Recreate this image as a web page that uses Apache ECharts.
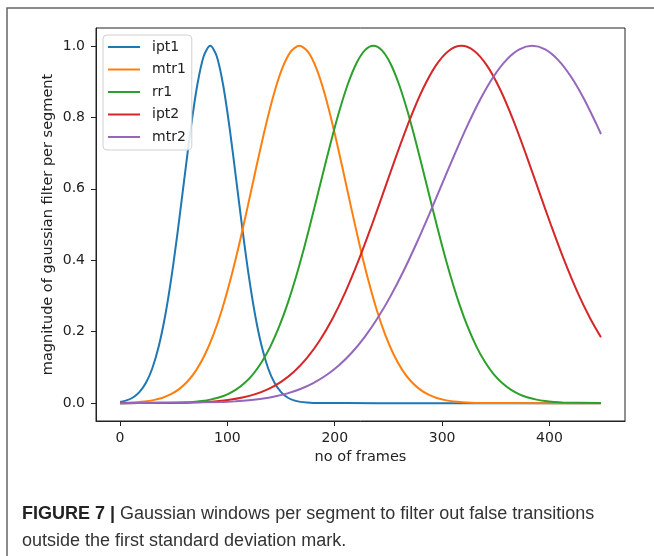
<!DOCTYPE html>
<html>
<head>
<meta charset="utf-8">
<script src="https://cdn.jsdelivr.net/npm/echarts@6/dist/echarts.min.js"></script>
<style>
html,body{margin:0;padding:0;background:#fff;}
#chart{width:654px;height:556px;}
</style>
</head>
<body>
<div id="chart"></div>
<script>
// ---- data ----
var seriesNames = ['ipt1', 'mtr1', 'rr1', 'ipt2', 'mtr2'];
var xTicks = [0, 100, 200, 300, 400];
var yTicks = [0, 0.2, 0.4, 0.6, 0.8, 1.0];

var ipt1X = [0,6,12,18,24,30,36,42,48,54,60,66,72,78,84,90,96,102,108,114,120,126,132,138,144,150,156,162,168,174,180,240,300,360,420,448];
var ipt1Y = [0.0035,0.0077,0.0158,0.0307,0.0561,0.0970,0.1583,0.2438,0.3546,0.4868,0.6308,0.7717,0.8912,0.9716,1,0.9716,0.8912,0.7717,0.6308,0.4868,0.3546,0.2438,0.1583,0.0970,0.0561,0.0307,0.0158,0.0077,0.0035,0.0015,0.0006,0,0,0,0,0];

var mtr1X = [0,7,15,23,31,39,47,55,63,71,79,87,95,103,111,119,127,135,143,151,159,167,175,183,191,199,207,215,223,231,239,247,255,263,271,279,287,295,303,311,319,327,335,400,448];
var mtr1Y = [0.0007,0.0013,0.0026,0.0047,0.0084,0.0145,0.0243,0.0392,0.0612,0.0925,0.1353,0.1915,0.2622,0.3472,0.4449,0.5515,0.6615,0.7676,0.8618,0.9360,0.9836,1,0.9836,0.9360,0.8618,0.7676,0.6615,0.5515,0.4449,0.3472,0.2622,0.1915,0.1353,0.0925,0.0612,0.0392,0.0243,0.0145,0.0084,0.0047,0.0026,0.0013,0.0007,0,0];

var rr1X = [0,60,68,76,84,92,100,108,116,124,132,140,148,156,164,172,180,188,196,204,212,220,228,236,244,252,260,268,276,284,292,300,308,316,324,332,340,348,356,364,372,380,388,396,404,412,448];
var rr1Y = [0,0.0020,0.0035,0.0060,0.0098,0.0158,0.0247,0.0377,0.0561,0.0814,0.1150,0.1583,0.2125,0.2780,0.3546,0.4408,0.5341,0.6308,0.7261,0.8148,0.8912,0.9501,0.9873,1,0.9873,0.9501,0.8912,0.8148,0.7261,0.6308,0.5341,0.4408,0.3546,0.2780,0.2125,0.1583,0.1150,0.0814,0.0561,0.0377,0.0247,0.0158,0.0098,0.0060,0.0035,0.0020,0.0001];

var ipt2X = [0,30,42,54,66,78,90,102,114,126,138,150,162,174,186,198,210,222,234,246,258,270,282,294,306,318,330,342,354,366,378,390,402,414,426,438,448];
var ipt2Y = [0,0.0003,0.0005,0.0009,0.0018,0.0032,0.0055,0.0094,0.0156,0.0251,0.0392,0.0595,0.0877,0.1257,0.1751,0.2369,0.3115,0.3979,0.4938,0.5955,0.6977,0.7942,0.8784,0.9440,0.9857,1,0.9857,0.9440,0.8784,0.7942,0.6977,0.5955,0.4938,0.3979,0.3115,0.2369,0.1845];

var mtr2X = [0,96,108,120,132,144,156,168,180,192,204,216,228,240,252,264,276,288,300,312,324,336,348,360,372,384,396,408,420,432,444,448];
var mtr2Y = [0,0.0032,0.0051,0.0080,0.0123,0.0186,0.0274,0.0396,0.0561,0.0780,0.1062,0.1418,0.1856,0.2381,0.2995,0.3692,0.4461,0.5285,0.6137,0.6986,0.7795,0.8526,0.9142,0.9609,0.9901,1,0.9901,0.9609,0.9142,0.8526,0.7795,0.7532];

var colors = ['#1f77b4', '#ff7f0e', '#2ca02c', '#d62728', '#9467bd'];
var xName = 'no of frames';
var yName = 'magnitude of gaussian filter per segment';
var captionBold = 'FIGURE 7 |';
var captionLine1 = ' Gaussian windows per segment to filter out false transitions';
var captionLine2 = 'outside the first standard deviation mark.';

// ---- chart ----
function pairs(xs, ys) { return xs.map(function (x, i) { return [x, ys[i]]; }); }
var allX = [ipt1X, mtr1X, rr1X, ipt2X, mtr2X];
var allY = [ipt1Y, mtr1Y, rr1Y, ipt2Y, mtr2Y];

var font = 'DejaVu Sans';
var chart = echarts.init(document.getElementById('chart'), null, { renderer: 'canvas' });
chart.setOption({
  animation: false,
  backgroundColor: '#fff',
  color: colors,
  grid: { left: 96, right: 29, top: 28, bottom: 135, show: true, borderColor: '#222', borderWidth: 1, backgroundColor: 'transparent', containLabel: false },
  legend: {
    orient: 'vertical', left: 103, top: 35,
    data: seriesNames.map(function (n) { return { name: n, icon: 'rect' }; }),
    itemWidth: 32, itemHeight: 2, itemGap: 6.5,
    padding: [4, 6, 5, 5],
    backgroundColor: 'rgba(255,255,255,0.85)', borderColor: '#d0d0d0', borderWidth: 1, borderRadius: 4,
    textStyle: { fontFamily: font, fontSize: 14, color: '#222', lineHeight: 16, padding: [0, 0, 0, 7] }
  },
  xAxis: {
    type: 'value', min: -22.4, max: 470.4, position: 'bottom',
    splitLine: { show: false }, axisLine: { show: true, onZero: false, lineStyle: { color: '#222', width: 1 } },
    axisTick: { show: true, inside: false, length: 5, customValues: xTicks, lineStyle: { color: '#222', width: 1 } },
    axisLabel: { customValues: xTicks, margin: 10, fontFamily: font, fontSize: 14, color: '#222' },
    name: xName, nameLocation: 'middle', nameGap: 29, nameMoveOverlap: false,
    nameTextStyle: { fontFamily: font, fontSize: 14.5, color: '#222' }
  },
  yAxis: {
    type: 'value', min: -0.05, max: 1.05, position: 'left',
    splitLine: { show: false }, axisLine: { show: true, onZero: false, lineStyle: { color: '#222', width: 1 } },
    axisTick: { show: true, inside: false, length: 5, customValues: yTicks, lineStyle: { color: '#222', width: 1 } },
    axisLabel: { customValues: yTicks, margin: 11, fontFamily: font, fontSize: 14, color: '#222', formatter: function (v) { return v.toFixed(1); } },
    name: yName, nameLocation: 'middle', nameGap: 40, nameMoveOverlap: false,
    nameTextStyle: { fontFamily: font, fontSize: 14.5, color: '#222' }
  },
  series: seriesNames.map(function (n, i) {
    return {
      name: n, type: 'line', data: pairs(allX[i], allY[i]),
      showSymbol: false, symbol: 'none', smooth: 0.3,
      lineStyle: { width: 2, color: colors[i] }, itemStyle: { color: colors[i] }
    };
  }),
  graphic: [
    { type: 'polyline', shape: { points: [[7, 556], [7, 8], [654, 8]] }, style: { stroke: '#666', lineWidth: 1.5, fill: null }, silent: true },
    { type: 'text', left: 22, top: 505, style: {
        text: '{b|' + captionBold + '}' + captionLine1,
        font: '18px "Liberation Sans"', fill: '#333',
        rich: { b: { fontFamily: 'Liberation Sans', fontSize: 18, fontWeight: 'bold', fill: '#222' } }
      } },
    { type: 'text', left: 22, top: 532, style: { text: captionLine2, font: '18px "Liberation Sans"', fill: '#333' } }
  ]
});
</script>
</body>
</html>
